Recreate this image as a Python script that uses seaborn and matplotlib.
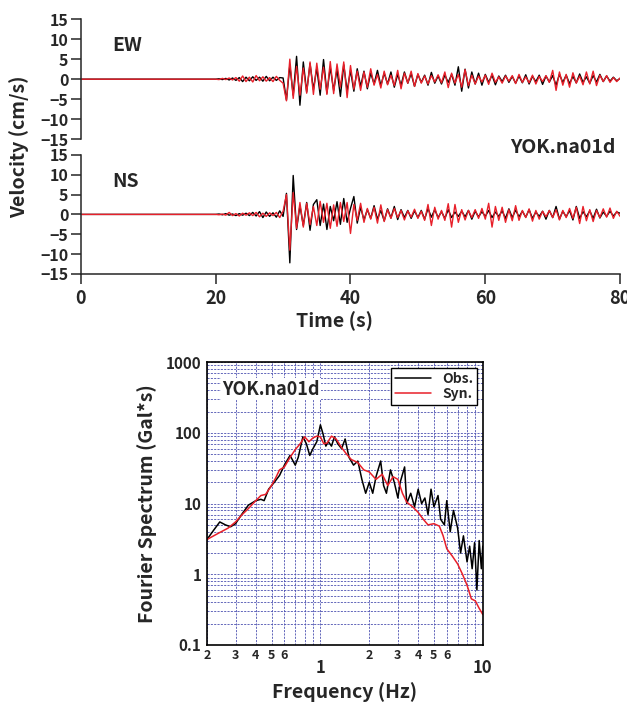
import numpy as np
import pandas as pd
import matplotlib
matplotlib.use("Agg")
import matplotlib.pyplot as plt
from matplotlib.ticker import FixedLocator, FixedFormatter, NullFormatter
import seaborn as sns

# ---- waveform data (peaks read every 0.5 s from 20 s to 80 s, zero before 20 s) ----
wave_start = 20.0
wave_step = 0.5

ew_obs = [
    0.0, 0.1, -0.1, 0.2, -0.2, 0.3, -0.3, 0.4, -0.6, 0.5,
    -0.4, 0.6, -0.3, 0.5, -0.5, 0.7, -0.4, 0.5, -0.3, 0.4,
    0.3, -5.2, 3.5, -4.0, 5.7, -6.5, 4.3, -3.2, 3.9, -2.6,
    2.8, -4.0, 4.9, -3.5, 3.0, -2.8, 2.5, -4.3, 3.6, -3.0,
    2.2, -3.0, 2.6, -1.8, 2.0, -2.4, 1.5, -1.2, 2.2, -1.6,
    1.5, -1.2, 1.8, -2.0, 1.2, -1.5, 1.8, -1.0, 1.4, -1.8,
    1.2, -0.8, 1.0, -1.5, 1.7, -1.0, 0.8, -1.2, 1.0, -0.8,
    1.2, -1.5, 3.1, -3.0, 2.5, -2.2, 1.8, -1.2, 1.5, -1.5,
    1.2, -0.8, 1.0, -1.4, 0.8, -0.6, 1.0, -0.8, 0.7, -1.0,
    0.8, -0.9, 1.1, -1.2, 0.7, -0.6, 1.0, -1.3, 0.8, -0.7,
    0.9, -1.5, 1.2, -0.8, 1.0, -1.1, 0.7, -0.9, 1.3, -0.8,
    0.6, -1.0, 0.9, -0.7, 1.2, -0.6, 0.8, -0.5, 0.5, -0.4,
    0.2,
]
ew_syn = [
    0.0, -0.1, 0.2, -0.1, 0.3, -0.2, 0.4, -0.5, 0.8, -0.6,
    0.5, -0.7, 0.9, -0.4, 0.6, -0.5, 0.4, -0.6, 0.7, -0.3,
    -1.0, -5.4, 5.0, -4.8, 3.2, -4.0, 2.8, -3.5, 4.3, -3.8,
    4.0, -2.5, 3.0, -3.8, 4.4, -3.6, 3.8, -2.0, 4.3, -4.6,
    3.4, -2.5, 2.0, -2.8, 1.8, -2.0, 2.6, -1.5, 1.2, -2.2,
    2.0, -1.4, 1.0, -1.6, 2.2, -2.4, 1.5, -1.0, 2.0, -1.8,
    1.4, -1.0, 0.8, -1.2, 0.9, -0.7, 1.1, -0.9, 1.8, -2.1,
    1.5, -1.0, 1.2, -2.0, 2.4, -1.6, 1.0, -1.2, 0.8, -0.7,
    1.0, -1.3, 1.5, -0.8, 0.6, -1.0, 0.8, -0.5, 0.9, -1.1,
    1.2, -0.8, 0.6, -0.9, 1.0, -1.2, 0.7, -0.6, 0.9, -0.8,
    2.2, -2.8, 1.8, -1.5, 1.2, -2.0, 1.6, -1.0, 0.8, -1.4,
    1.8, -1.2, 2.0, -1.6, 1.0, -0.6, 0.9, -0.8, 0.4, -0.6,
    0.3,
]
ns_obs = [
    0.0, 0.1, -0.1, 0.2, -0.2, 0.1, -0.3, 0.2, -0.2, 0.3,
    -0.3, 0.5, -0.4, 0.7, -0.8, 0.6, -0.5, 0.4, -0.7, 0.9,
    -0.5, 5.3, -12.2, 9.8, -3.8, 2.2, -2.8, 3.0, -4.0, 2.5,
    3.7, -2.8, 2.6, -3.8, 2.0, -1.6, 3.2, -2.5, 4.0, -2.0,
    1.5, 4.5, -2.2, 1.8, -1.4, 1.2, -1.0, 2.2, -1.2, 1.0,
    -1.6, 1.4, -0.9, 2.0, -1.3, 1.2, -0.8, 1.0, -1.0, 0.9,
    -0.8, 1.0, -1.2, 1.5, -0.7, 1.2, -0.8, 0.7, -1.0, 1.2,
    -0.8, 0.6, -0.5, 0.8, -0.6, 1.0, -1.2, 0.8, -0.6, 0.7,
    -0.5, 1.0, -0.8, 0.6, -0.5, 0.9, -1.0, 1.4, -0.8, 1.1,
    -0.6, 0.8, -0.7, 1.2, -1.0, 0.6, -0.5, 0.8, -1.2, 1.0,
    -0.8, 2.0, -1.2, 0.8, -0.6, 1.0, -1.4, 2.0, -1.0, 0.7,
    -0.6, 0.9, -1.0, 1.3, -0.9, 0.6, -0.5, 0.8, -0.4, 0.6,
    0.3,
]
ns_syn = [
    0.0, -0.1, 0.1, -0.2, 0.5, -0.3, 0.2, -0.4, 0.3, -0.2,
    0.4, -0.3, 0.5, -0.6, 0.3, -0.5, 0.4, -0.3, 0.5, -0.8,
    0.8, 5.0, -9.0, 5.5, -3.5, 3.0, -3.2, 2.8, -2.6, 2.0,
    -2.8, 3.3, -2.0, 2.8, -3.5, 2.4, -3.0, 3.0, -1.8, 3.0,
    -4.8, 2.5, -1.5, 2.8, -2.0, 1.5, -1.2, 1.8, -2.2, 2.4,
    -1.8, 1.2, -1.0, 1.5, -0.8, 1.0, -1.4, 0.9, -0.7, 1.3,
    -1.0, 0.8, -1.5, 2.5, -2.8, 1.8, -1.2, 1.0, -1.5, 2.7,
    -3.2, 2.5, -2.0, 1.2, -1.4, 1.0, -0.8, 1.2, -1.0, 1.5,
    -1.2, 2.8, -3.2, 2.0, -1.5, 1.8, -2.0, 1.2, -1.6, 2.2,
    -1.5, 1.0, -0.8, 1.4, -1.7, 1.0, -1.2, 0.8, -0.6, 1.0,
    -0.8, 1.2, -1.4, 1.0, -0.8, 1.5, -1.0, 1.8, -2.3, 2.0,
    -1.6, 1.2, -1.8, 1.0, -0.8, 1.4, -0.7, 1.6, -1.0, 0.8,
    -0.5,
]

# ---- Fourier spectrum data ----
syn_freq = [0.2, 0.22, 0.24, 0.27, 0.3, 0.33, 0.36, 0.4, 0.43, 0.46, 0.5, 0.53,
            0.56, 0.6, 0.65, 0.7, 0.75, 0.8, 0.85, 0.9, 0.95, 1.0, 1.05, 1.1,
            1.17, 1.25, 1.35, 1.45, 1.55, 1.7, 1.85, 2.0, 2.2, 2.4, 2.6, 2.8,
            3.0, 3.2, 3.4, 3.7, 4.0, 4.3, 4.6, 5.0, 5.4, 5.7, 6.0, 6.5, 7.0,
            7.5, 8.0, 8.5, 9.0, 9.5, 10.0]
syn_amp = [3.1, 3.5, 3.9, 4.5, 5.5, 7.0, 8.5, 11, 13, 13.5, 18, 23,
           30, 33, 45, 58, 70, 88, 75, 85, 90, 88, 70, 72,
           90, 82, 62, 50, 42, 38, 30, 28, 22, 26, 18, 24,
           22, 14, 10.5, 9, 7.5, 6, 5, 5.2, 4.8, 3.5, 2.3, 1.8, 1.4,
           1.0, 0.7, 0.45, 0.42, 0.33, 0.27]

obs_freq = [0.2, 0.22, 0.24, 0.26, 0.28, 0.3, 0.33, 0.36, 0.4, 0.43, 0.45, 0.48,
            0.52, 0.56, 0.6, 0.65, 0.7, 0.73, 0.78, 0.82, 0.86, 0.9, 0.95, 1.0,
            1.04, 1.08, 1.12, 1.17, 1.22, 1.28, 1.35, 1.42, 1.5, 1.6, 1.7, 1.8,
            1.9, 2.0, 2.1, 2.2, 2.35, 2.45, 2.55, 2.7, 2.85, 3.0, 3.1, 3.3,
            3.4, 3.6, 3.8, 4.0, 4.2, 4.4, 4.6, 4.8, 5.0, 5.3, 5.5, 5.8, 6.0,
            6.3, 6.6, 7.0, 7.3, 7.6, 8.0, 8.3, 8.6, 8.9, 9.2, 9.5, 9.8, 10.0]
obs_amp = [3.1, 4.2, 5.5, 5.0, 4.7, 5.2, 7.2, 9.5, 11, 11.5, 11.0, 16,
           20, 25, 35, 48, 35, 45, 88, 70, 48, 60, 75, 130,
           95, 65, 75, 65, 88, 70, 60, 82, 45, 35, 40, 22,
           14, 20, 14, 24, 40, 18, 14, 30, 20, 12, 20, 33,
           10, 14, 9, 16, 10, 12, 7, 16, 9, 13, 6, 5, 11,
           4, 8, 4.5, 2, 3.5, 1.5, 2.5, 1.2, 2.8, 0.6, 3.0, 1.2, 2.5]

station = "YOK.na01d"

wave_time = np.concatenate([[0.0], wave_start + wave_step * np.arange(len(ew_obs))])


def wave_frame(values):
    return pd.DataFrame({"t": wave_time, "v": np.concatenate([[0.0], values])})


sns.set_style("ticks")
plt.rcParams["font.family"] = ["Noto Sans CJK JP", "DejaVu Sans"]
plt.rcParams["font.weight"] = "bold"
plt.rcParams["axes.labelweight"] = "bold"

fig = plt.figure(figsize=(6.27, 7.07), dpi=100)

ax_ew = fig.add_axes([0.129, 0.803, 0.860, 0.170])
ax_ns = fig.add_axes([0.129, 0.6125, 0.860, 0.1685])

for ax, obs, syn, comp in [(ax_ew, ew_obs, ew_syn, "EW"), (ax_ns, ns_obs, ns_syn, "NS")]:
    sns.lineplot(data=wave_frame(obs), x="t", y="v", color="black", lw=1.0,
                 estimator=None, sort=False, ax=ax)
    sns.lineplot(data=wave_frame(syn), x="t", y="v", color="#e8202a", lw=1.0,
                 estimator=None, sort=False, ax=ax)
    ax.set_xlim(0, 80)
    ax.set_ylim(-15, 15)
    ax.set_yticks(range(-15, 16, 5))
    ax.set_xlabel("")
    ax.set_ylabel("")
    ax.tick_params(axis="y", labelsize=11.5, length=7, width=1.1, pad=2)
    ax.spines["left"].set_linewidth(1.1)
    ax.text(0.058, 0.78, comp, transform=ax.transAxes, fontsize=14,
            fontweight="bold", va="center")
    sns.despine(ax=ax)

ax_ew.spines["bottom"].set_visible(False)
ax_ew.tick_params(axis="x", bottom=False, labelbottom=False)
ax_ns.set_xticks(range(0, 81, 20))
ax_ns.tick_params(axis="x", labelsize=13, length=7, width=1.1, pad=4)
ax_ns.spines["bottom"].set_linewidth(1.1)

fig.text(0.030, 0.792, "Velocity (cm/s)", rotation=90, ha="center", va="center",
         fontsize=14, fontweight="bold")
fig.text(0.534, 0.545, "Time (s)", ha="center", va="center",
         fontsize=14, fontweight="bold")
fig.text(0.898, 0.791, station, ha="center", va="center",
         fontsize=14, fontweight="bold")

# ---- spectrum panel ----
ax_sp = fig.add_axes([0.330, 0.0877, 0.440, 0.400])
obs_df = pd.DataFrame({"f": obs_freq, "a": obs_amp})
syn_df = pd.DataFrame({"f": syn_freq, "a": syn_amp})
sns.lineplot(data=obs_df, x="f", y="a", color="black", lw=1.1, label="Obs.",
             estimator=None, sort=False, ax=ax_sp)
sns.lineplot(data=syn_df, x="f", y="a", color="#e8202a", lw=1.1, label="Syn.",
             estimator=None, sort=False, ax=ax_sp)
ax_sp.set_xscale("log")
ax_sp.set_yscale("log")
ax_sp.set_xlim(0.2, 10)
ax_sp.set_ylim(0.1, 1000)

ax_sp.xaxis.set_major_locator(FixedLocator([1, 10]))
ax_sp.xaxis.set_major_formatter(FixedFormatter(["1", "10"]))
minor_x = [0.2, 0.3, 0.4, 0.5, 0.6, 0.7, 0.8, 0.9, 2, 3, 4, 5, 6, 7, 8, 9]
minor_x_labels = ["2", "3", "4", "5", "6", "", "", "", "2", "3", "4", "5", "6", "", "", ""]
ax_sp.xaxis.set_minor_locator(FixedLocator(minor_x))
ax_sp.xaxis.set_minor_formatter(FixedFormatter(minor_x_labels))
ax_sp.yaxis.set_major_locator(FixedLocator([0.1, 1, 10, 100, 1000]))
ax_sp.yaxis.set_major_formatter(FixedFormatter(["0.1", "1", "10", "100", "1000"]))
minor_y = [m * 10.0 ** e for e in range(-1, 3) for m in range(2, 10)]
ax_sp.yaxis.set_minor_locator(FixedLocator(minor_y))
ax_sp.yaxis.set_minor_formatter(NullFormatter())

ax_sp.tick_params(axis="x", which="major", labelsize=12, pad=10, length=0)
ax_sp.tick_params(axis="x", which="minor", labelsize=9, pad=3, length=0)
ax_sp.tick_params(axis="y", which="both", labelsize=11, length=0, pad=4)
ax_sp.grid(which="both", color="#4a4fb0", linestyle=(0, (2.5, 1.5)), linewidth=0.6)
for sp in ax_sp.spines.values():
    sp.set_linewidth(1.2)
    sp.set_color("black")

ax_sp.set_xlabel("Frequency (Hz)", fontsize=14, fontweight="bold", labelpad=4)
ax_sp.set_ylabel("Fourier Spectrum (Gal*s)", fontsize=14, fontweight="bold", labelpad=6)
ax_sp.text(0.055, 0.905, station, transform=ax_sp.transAxes, fontsize=13,
           fontweight="bold", va="center",
           bbox=dict(facecolor="white", edgecolor="none", pad=1))
leg = ax_sp.legend(loc="upper right", frameon=True, fancybox=False, framealpha=1,
                   edgecolor="black", fontsize=10, handlelength=2.6,
                   borderaxespad=0.4, labelspacing=0.1, borderpad=0.3)
leg.get_frame().set_linewidth(1.0)

fig.savefig("out.png", dpi=100)
